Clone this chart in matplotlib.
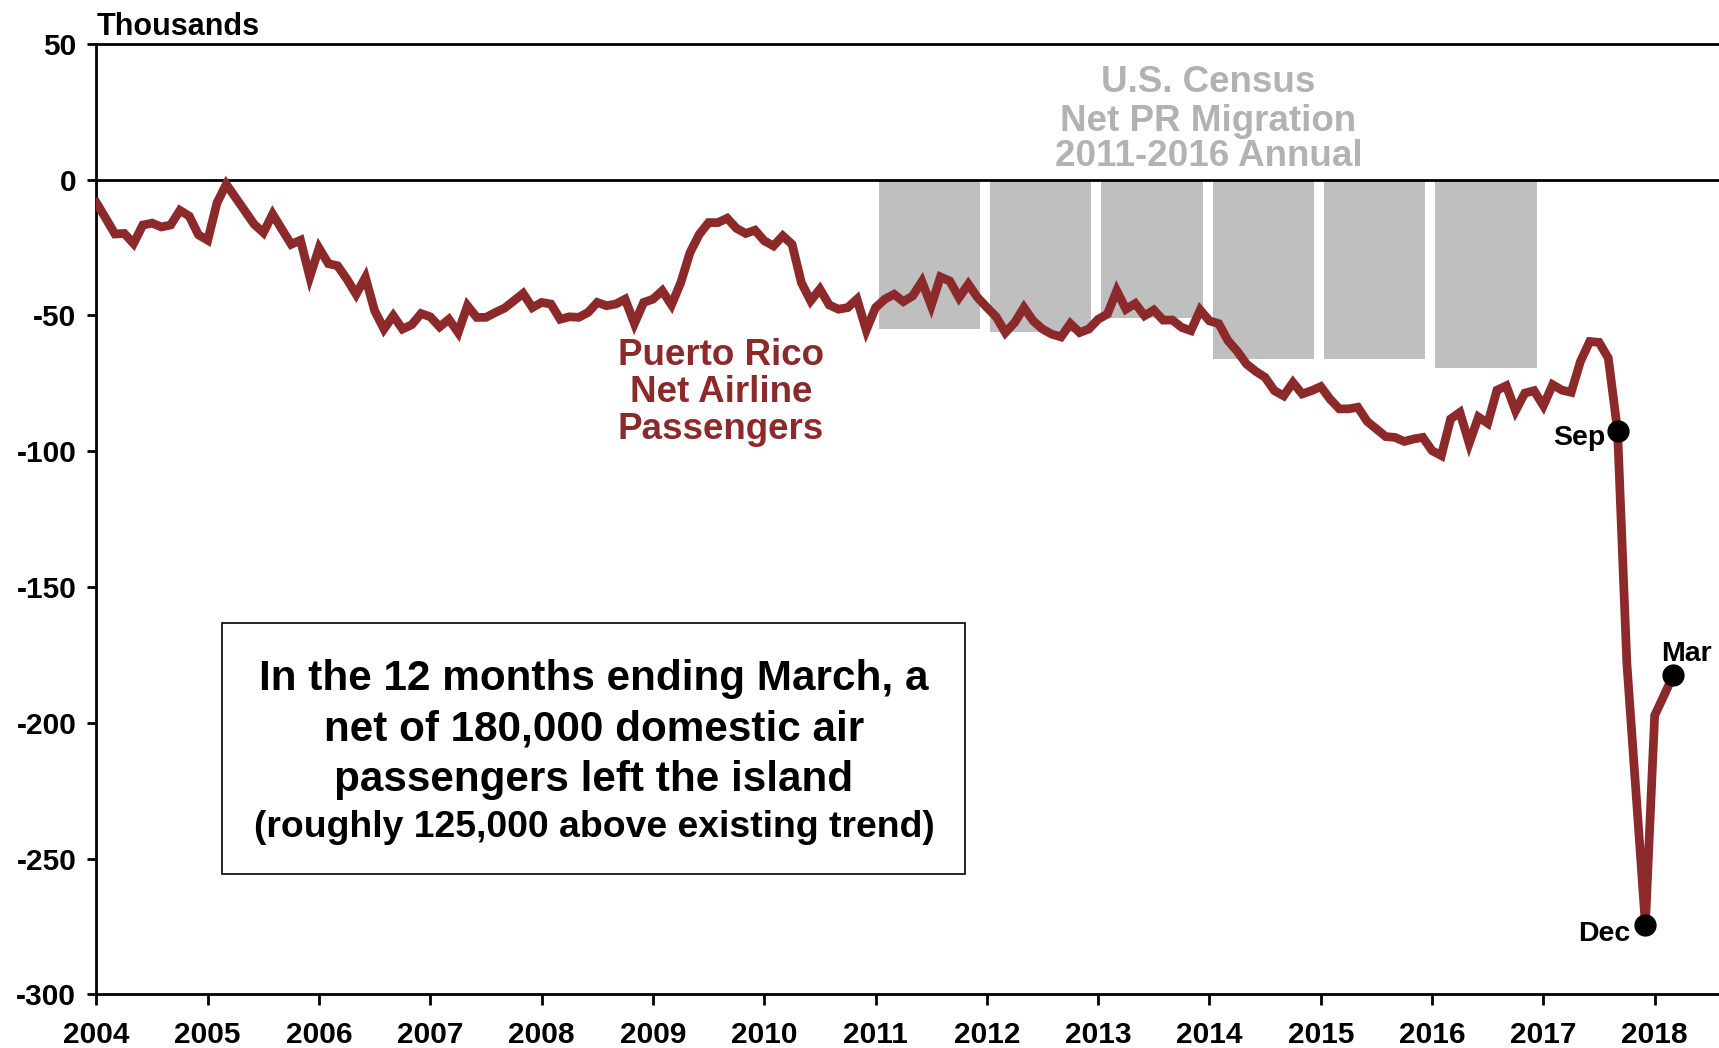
import numpy as np
import matplotlib
import matplotlib.pyplot as plt
from matplotlib.patches import Rectangle

matplotlib.use('agg')
plt.rcParams['font.family'] = ['Liberation Sans', 'DejaVu Sans']
plt.rcParams['font.weight'] = 'bold'
plt.rcParams['axes.unicode_minus'] = False

# net airline passengers, thousands, monthly from Jan 2004
net_2004 = [-8.5, -14.2, -20.0, -19.8, -23.5, -16.7, -16.0, -17.4, -16.7, -11.3, -13.4, -20.3]
net_2005 = [-22.3, -8.5, -1.7, -6.6, -11.5, -16.4, -19.5, -12.7, -18.3, -23.8, -22.3, -35.8]
net_2006 = [-25.2, -30.9, -31.7, -36.6, -42.2, -36.0, -48.3, -55.0, -50.1, -55.0, -53.4, -49.3]
net_2007 = [-50.5, -54.2, -51.4, -56.3, -46.4, -50.7, -50.7, -48.9, -47.3, -44.6, -41.9, -47.1]
net_2008 = [-45.2, -45.8, -51.4, -50.5, -50.7, -48.9, -45.2, -46.4, -45.8, -44.0, -53.0, -45.2]
net_2009 = [-44.0, -40.9, -46.1, -37.9, -26.8, -20.1, -15.8, -15.8, -14.2, -17.9, -19.8, -18.6]
net_2010 = [-22.5, -24.4, -20.7, -23.8, -37.9, -44.6, -40.3, -46.1, -47.7, -47.1, -44.0, -55.4]
net_2011 = [-47.1, -44.0, -42.2, -44.9, -42.8, -37.5, -46.4, -35.8, -37.3, -43.4, -38.5, -43.4]
net_2012 = [-47.0, -50.5, -56.3, -52.6, -47.1, -52.0, -55.0, -56.9, -57.9, -53.0, -56.3, -55.0]
net_2013 = [-51.4, -49.5, -40.9, -47.7, -45.6, -50.1, -48.0, -51.7, -51.7, -54.4, -55.6, -48.0]
net_2014 = [-52.0, -53.0, -59.3, -63.2, -67.9, -70.6, -72.8, -77.7, -79.6, -74.7, -78.9, -77.7]
net_2015 = [-76.2, -80.8, -84.4, -84.4, -83.8, -89.0, -91.8, -94.6, -94.9, -96.4, -95.5, -94.9]
net_2016 = [-99.8, -101.6, -88.1, -85.7, -97.1, -87.4, -89.7, -77.5, -75.9, -85.1, -78.6, -77.7]
net_2017 = [-83.2, -75.5, -77.5, -78.3, -66.9, -59.6, -59.9, -65.7, -92.5, -178.0, -226.0, -274.5]
net_2018 = [-197.3, -190.0, -182.5]

passengers = np.array(net_2004 + net_2005 + net_2006 + net_2007 + net_2008 + net_2009
                      + net_2010 + net_2011 + net_2012 + net_2013 + net_2014 + net_2015
                      + net_2016 + net_2017 + net_2018)
months = 2004 + np.arange(len(passengers)) / 12

# census annual net migration, thousands
census_years = np.array([2011, 2012, 2013, 2014, 2015, 2016])
census_net = [-55, -56, -51, -66, -66, -69.5]

# highlighted points: index into series, label
marks = [(164, 'Sep'), (167, 'Dec'), (170, 'Mar')]
mark_offsets = {'Sep': (-12, -14, 'right'), 'Dec': (-15, -16, 'right'), 'Mar': (-12, 14, 'left')}

red = '#8c2a2b'
grey = '#bfbfbf'

fig = plt.figure(figsize=(17.19, 10.48), dpi=100)
ax = fig.add_axes([0.0561, 0.0512, 0.9439, 0.9069])

ax.bar(census_years + 0.03, census_net, width=0.91, align='edge', color=grey, zorder=2)
ax.axhline(0, color='black', lw=2.0, zorder=3)
ax.plot(months, passengers, color=red, lw=6.3, solid_joinstyle='miter', zorder=4)

for idx, label in marks:
    ax.plot(months[idx], passengers[idx], 'o', color='black', ms=15, zorder=5)
    dx, dy, ha = mark_offsets[label]
    ax.annotate(label, (months[idx], passengers[idx]), xytext=(dx, dy),
                textcoords='offset pixels', ha=ha, va='baseline',
                fontsize=20.5, fontweight='bold', color='black')

# text labels
for y, line in zip([32.3, 18.1, 4.9], ['U.S. Census', 'Net PR Migration', '2011-2016 Annual']):
    ax.text(2013.99, y, line, ha='center', va='baseline', fontsize=26.5,
            fontweight='bold', color='#b2b2b2')
for y, line in zip([-68.1, -81.8, -95.5], ['Puerto Rico', 'Net Airline', 'Passengers']):
    ax.text(2009.61, y, line, ha='center', va='baseline', fontsize=26.5,
            fontweight='bold', color=red)

ax.add_patch(Rectangle((2005.13, -255.6), 6.67, 92.3, fill=False,
                       edgecolor='black', lw=1.2, zorder=3))
box_lines = ['In the 12 months ending March, a', 'net of 180,000 domestic air',
             'passengers left the island', '(roughly 125,000 above existing trend)']
for y, line, fs in zip([-187.8, -206.4, -225.3, -242.2], box_lines, [30.4, 30.4, 30.4, 26.9]):
    ax.text(2008.47, y, line, ha='center', va='baseline', fontsize=fs,
            fontweight='bold', color='black', zorder=4)

# axes
ax.set_xlim(2004, 2018.578)
ax.set_ylim(-300, 50)
ax.set_xticks(range(2004, 2019))
ax.set_yticks(range(-300, 51, 50))
ax.set_yticks([-250, -200, -150, -100, -50], minor=True)
ax.grid(which='minor', axis='y', color='#d9d9d9', lw=1.1, zorder=0)
ax.set_axisbelow(True)
ax.tick_params(axis='x', length=8, width=2, pad=11, labelsize=21.5)
ax.tick_params(axis='y', length=6.5, width=2, pad=8, labelsize=21.5)
ax.tick_params(which='minor', length=0)
for lab in ax.get_xticklabels() + ax.get_yticklabels():
    lab.set_fontweight('bold')
for side in ['left', 'top', 'bottom']:
    ax.spines[side].set_linewidth(2.0)
ax.spines['right'].set_visible(False)

fig.text(96.5 / 1719, 1 - 35 / 1048, 'Thousands', ha='left', va='baseline',
         fontsize=22, fontweight='bold')

fig.savefig('out.png', dpi=100)
